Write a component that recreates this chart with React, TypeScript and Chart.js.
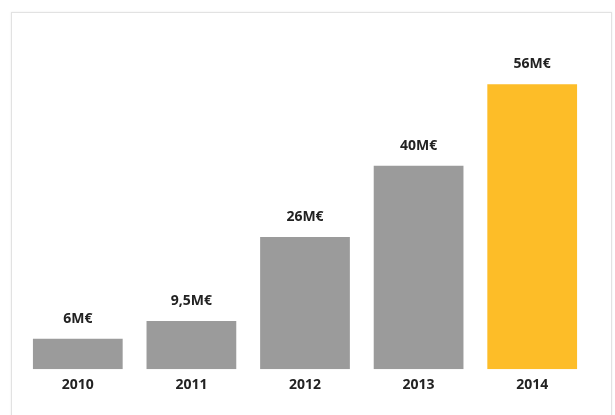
import React, { useEffect, useRef } from "react";
import { Chart, registerables } from "chart.js";

Chart.register(...registerables);

const years = ["2010", "2011", "2012", "2013", "2014"];
const revenue = [6, 9.5, 26, 40, 56];
const valueLabels = ["6M€", "9,5M€", "26M€", "40M€", "56M€"];
const barColors = ["#9b9b9b", "#9b9b9b", "#9b9b9b", "#9b9b9b", "#fdbd28"];

const valueLabelPlugin = {
  id: "valueLabels",
  afterDatasetsDraw(chart: any) {
    const ctx = chart.ctx;
    const meta = chart.getDatasetMeta(0);
    ctx.save();
    ctx.font = "bold 14px 'Open Sans'";
    ctx.fillStyle = "#222222";
    ctx.textAlign = "center";
    ctx.textBaseline = "middle";
    meta.data.forEach((bar: any, i: number) => {
      ctx.fillText(valueLabels[i], bar.x, bar.y - 20);
    });
    ctx.restore();
  },
};

export default function App() {
  const canvasRef = useRef<HTMLCanvasElement>(null);

  useEffect(() => {
    const chart = new Chart(canvasRef.current!, {
      type: "bar",
      data: {
        labels: years,
        datasets: [
          {
            data: revenue,
            backgroundColor: barColors,
            borderWidth: 0,
            barPercentage: 0.79,
            categoryPercentage: 1,
          },
        ],
      },
      options: {
        animation: false,
        responsive: false,
        maintainAspectRatio: false,
        layout: { padding: { left: 21, right: 26, top: 64, bottom: 15 } },
        plugins: {
          legend: { display: false },
          tooltip: { enabled: false },
        },
        scales: {
          x: {
            grid: { display: false, drawTicks: false },
            border: { display: false },
            ticks: {
              color: "#222222",
              padding: 7,
              font: { family: "'Open Sans'", size: 14, weight: "bold" },
            },
          },
          y: {
            display: false,
            min: 0,
            max: 60,
          },
        },
      },
      plugins: [valueLabelPlugin],
    });
    return () => chart.destroy();
  }, []);

  return (
    <div style={{ position: "fixed", left: 0, top: 0, width: 615, height: 415, background: "#fff", overflow: "hidden" }}>
      <div
        style={{
          position: "absolute",
          left: 11,
          top: 12,
          width: 599,
          height: 420,
          border: "1px solid #e2e2e2",
          boxShadow: "0 0 2px rgba(0,0,0,0.08)",
        }}
      />
      <canvas ref={canvasRef} width={615} height={415} style={{ position: "absolute", left: 0, top: 0 }} />
    </div>
  );
}
